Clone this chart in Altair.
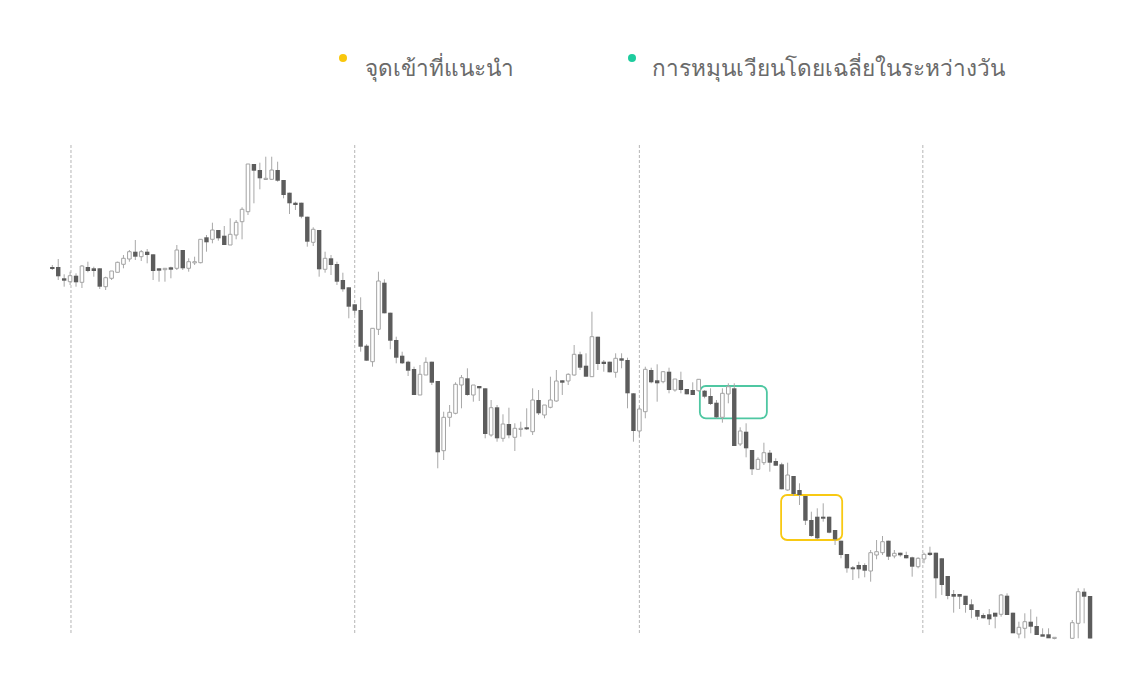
import altair as alt
import pandas as pd

# ---- data (price units are arbitrary, no axis shown) ----
# each candle: colour flag (1 = falling/dark, 0 = rising/white), body top, body bottom, high, low (as price)
idx = list(range(1, 171)) + [173, 174, 175, 176]

dark = [1,1,1,0,1,0,1,1,1,0, 0,0,0,0,1,0,1,1,1,0, 1,0,1,0,0,0,1,0,1,1,
        0,0,0,0,1,1,0,0,1,1, 1,1,1,1,0,1,0,1,1,1, 1,1,1,1,0,0,1,1,1,1,
        1,1,0,0,1,1,0,0,0,0, 1,0,1,1,0,1,0,1,0,0, 1,0,1,0,0,0,1,0,0,1,
        1,0,1,1,1,0,1,1,1,0, 0,1,1,0,1,0,1,1,1,0, 1,1,1,0,0,1,0,1,1,0,
        0,1,1,1,0,1,1,1,1,1, 1,1,1,1,1,1,1,1,0,0, 0,1,0,1,1,1,0,0,1,1,
        1,1,1,1,1,1,1,1,1,1, 0,1,1,0,0,1,1,1,1,0, 0,0,1,1]

body_top = [433.0,433.0,421.7,424.3,424.3,434.0,433.0,431.7,431.7,422.3,
            429.0,437.7,441.7,448.3,448.3,448.3,448.3,445.7,431.7,431.7,
            432.7,450.0,450.0,438.3,438.3,460.7,462.7,470.0,470.0,464.3,
            465.7,477.7,490.7,536.0,536.0,530.0,521.7,530.0,530.0,520.0,
            507.3,497.3,497.3,483.3,470.7,470.0,441.7,441.7,436.0,420.0,
            412.7,395.7,390.0,354.3,371.7,419.0,417.3,387.3,360.0,344.3,
            338.3,331.0,325.7,337.7,338.3,319.0,282.7,287.7,315.7,322.3,
            321.7,315.0,314.0,311.7,292.3,292.7,276.0,276.0,271.7,271.7,
            272.7,300.0,300.0,295.0,300.0,319.0,319.7,325.7,345.7,345.7,
            334.3,363.3,363.3,338.3,338.3,341.7,341.7,340.0,306.7,291.0,
            330.7,330.0,319.7,328.3,328.3,321.0,320.0,311.0,310.0,320.7,
            309.3,304.0,297.3,306.7,313.3,311.7,269.0,268.3,250.0,240.7,
            247.3,247.3,239.0,235.7,225.0,224.0,210.0,204.0,180.0,183.3,
            183.3,183.3,170.0,159.3,146.0,132.7,135.0,135.0,147.3,148.3,
            158.3,159.3,146.7,147.3,145.0,142.7,141.7,145.7,147.3,147.3,
            141.7,124.0,106.0,106.0,104.3,95.7,90.0,85.0,85.7,87.3,
            105.0,104.3,87.3,72.7,78.3,78.3,74.0,65.7,65.7,62.7,
            77.3,108.3,108.3,104.0]

body_bot = [431.0,423.7,419.3,418.3,417.7,417.7,429.0,429.0,413.3,413.3,
            421.7,427.7,435.7,441.0,443.3,443.3,445.0,429.0,429.3,430.3,
            430.3,431.7,431.7,431.7,437.3,437.3,457.7,460.7,461.7,455.0,
            455.0,465.0,478.3,488.3,529.3,521.7,520.7,520.7,519.3,505.0,
            496.7,495.0,483.3,458.3,457.7,430.7,430.7,435.0,418.3,410.7,
            393.3,389.3,353.3,339.3,338.3,370.7,386.7,359.3,342.3,336.7,
            329.3,305.0,305.0,325.0,317.3,247.7,249.3,282.7,286.7,315.0,
            305.0,305.0,311.7,266.0,265.0,261.7,261.7,264.7,262.7,270.7,
            270.7,268.3,286.7,285.0,292.7,299.0,317.3,319.0,325.0,332.3,
            323.3,323.3,336.0,336.0,327.7,327.7,339.3,306.7,269.0,269.0,
            288.3,317.7,316.7,318.3,310.0,310.0,310.0,305.7,305.0,309.3,
            303.3,296.0,282.7,282.7,306.0,254.0,256.0,251.7,230.7,230.7,
            237.3,237.3,234.3,210.7,210.0,206.0,205.0,179.3,164.0,161.7,
            181.3,167.3,160.7,145.0,131.7,130.7,130.7,129.3,129.0,145.0,
            147.3,143.3,144.0,144.7,141.7,133.3,133.3,141.0,145.0,121.7,
            115.0,104.0,103.3,103.3,95.0,90.0,83.3,81.7,80.7,83.3,
            85.7,85.0,66.7,66.0,71.7,73.3,65.0,63.3,61.7,61.7,
            61.7,76.7,103.3,61.5]

high = [435.0,441.0,425.7,428.3,426.7,435.0,438.3,433.3,431.7,423.3,
        429.0,438.3,445.0,450.0,460.0,450.0,451.0,445.7,431.7,431.7,
        433.3,455.0,450.0,441.7,443.3,460.7,465.0,477.3,470.0,474.0,
        481.7,480.0,492.7,536.0,536.0,537.3,543.3,543.3,538.3,520.0,
        507.3,498.3,497.3,483.3,472.7,470.0,448.3,445.0,438.3,427.3,
        412.7,395.7,402.7,355.7,371.7,428.3,420.7,387.3,363.3,348.3,
        339.3,333.3,335.0,342.7,338.3,319.0,288.3,295.0,317.7,325.0,
        331.7,315.0,314.0,311.7,300.0,295.0,285.7,292.3,276.7,278.3,
        291.7,311.7,310.0,295.0,323.3,330.0,319.7,326.7,355.0,348.3,
        346.7,388.3,363.3,340.0,338.3,346.7,346.7,342.3,306.7,293.3,
        333.3,332.3,335.7,329.0,332.3,321.0,328.3,311.0,317.7,320.7,
        310.0,311.7,300.0,311.7,316.7,316.7,272.7,276.7,250.0,242.7,
        257.3,250.0,241.7,237.3,237.3,224.0,216.7,204.0,188.3,191.7,
        196.7,183.3,170.0,159.3,146.0,134.0,138.3,136.7,150.0,160.0,
        164.0,159.3,150.0,147.3,148.3,143.3,142.7,147.3,153.3,147.3,
        141.7,124.0,110.0,106.0,97.3,100.7,86.7,86.7,91.0,83.3,
        106.0,106.7,87.3,78.3,86.7,90.7,83.3,71.7,71.7,62.7,
        80.0,111.7,111.7,104.0]

low = [430.0,420.0,413.3,415.0,413.3,412.0,427.7,423.3,411.0,410.0,
       420.0,427.7,431.7,438.3,440.0,439.0,436.7,420.0,418.3,418.3,
       421.7,430.0,430.0,428.3,435.0,436.7,448.3,456.7,459.3,455.0,
       455.0,460.7,460.7,485.0,496.7,510.7,520.0,520.0,518.3,501.7,
       486.0,490.0,481.7,453.3,454.0,423.3,427.3,425.0,415.0,408.3,
       381.7,385.0,348.3,339.3,333.3,365.0,386.7,350.7,336.7,336.0,
       324.0,305.0,305.0,325.0,315.0,231.7,240.0,273.3,285.7,291.7,
       304.3,298.3,299.0,261.7,263.3,258.3,258.3,261.7,249.0,263.3,
       270.0,265.0,285.0,281.7,291.7,298.3,305.0,315.0,324.3,330.0,
       323.3,323.3,330.0,328.3,327.7,322.3,331.7,291.7,258.3,263.3,
       281.7,316.7,298.3,316.7,306.7,308.3,306.7,305.7,305.0,308.3,
       301.7,295.0,281.7,277.3,296.7,254.0,254.0,242.7,225.0,230.0,
       235.0,228.3,234.3,210.7,209.3,204.0,195.0,175.0,163.3,160.7,
       178.3,166.7,155.0,141.7,127.3,120.0,121.7,122.7,118.3,140.7,
       145.0,140.0,141.7,143.3,141.7,123.3,131.7,136.7,144.0,101.7,
       105.0,100.7,87.3,91.0,87.3,81.7,80.0,81.7,75.0,71.7,
       83.3,85.0,85.0,61.7,61.7,66.7,70.7,65.0,62.7,60.7,
       61.7,61.7,76.7,61.5]

# day separators (candle position) and highlighted zones
day_breaks = [4.15, 52.0, 100.0, 147.8]
zone_name = ["turnover", "entry"]
zone_x0 = [110.2, 123.9]
zone_x1 = [121.5, 134.2]
zone_top = [314.0, 205.0]
zone_bot = [281.7, 160.0]
zone_color = ["#4fc7a2", "#f8c913"]

legend_labels = ["จุดเข้าที่แนะนำ", "การหมุนเวียนโดยเฉลี่ยในระหว่างวัน"]
legend_colors = ["#f9c70c", "#1ecc9e"]

# ---- build frames ----
df = pd.DataFrame({
    "i": idx, "dark": dark, "top": body_top, "bot": body_bot,
    "high": high, "low": low,
})
df["open"] = df.apply(lambda r: r["top"] if r["dark"] else r["bot"], axis=1)
df["close"] = df.apply(lambda r: r["bot"] if r["dark"] else r["top"], axis=1)
# make sure tiny bodies are still visible
df["bot2"] = df.apply(lambda r: min(r["bot"], r["top"] - 1.2), axis=1)

W, H = 1126, 674
xs = alt.Scale(domain=[-6.47, 183.41], nice=False, zero=False, padding=0)
ys = alt.Scale(domain=[18, 692], nice=False, zero=False, padding=0)

breaks = pd.DataFrame({"i": day_breaks, "y0": [555.0] * 4, "y1": [67.0] * 4})
rules = alt.Chart(breaks).mark_rule(color="#b5b5b5", strokeWidth=1, strokeDash=[3, 2]).encode(
    x=alt.X("i:Q", scale=xs, axis=None),
    y=alt.Y("y0:Q", scale=ys, axis=None),
    y2="y1:Q",
)

zones = pd.DataFrame({"name": zone_name, "x0": zone_x0, "x1": zone_x1,
                      "t": zone_top, "b": zone_bot, "c": zone_color})
boxes = alt.Chart(zones).mark_rect(fill=None, fillOpacity=0, strokeWidth=1.8, cornerRadius=6).encode(
    x=alt.X("x0:Q", scale=xs, axis=None), x2="x1:Q",
    y=alt.Y("t:Q", scale=ys, axis=None), y2="b:Q",
    stroke=alt.Stroke("c:N", scale=None),
)

wicks = alt.Chart(df).mark_rule(color="#a8a8a8", strokeWidth=1).encode(
    x=alt.X("i:Q", scale=xs, axis=None),
    y=alt.Y("high:Q", scale=ys, axis=None),
    y2="low:Q",
)

bodies_up = alt.Chart(df[df["dark"] == 0]).mark_bar(
    size=3.6, fill="#ffffff", stroke="#a3a3a3", strokeWidth=1
).encode(
    x=alt.X("i:Q", scale=xs, axis=None),
    y=alt.Y("top:Q", scale=ys, axis=None),
    y2="bot2:Q",
)

bodies_down = alt.Chart(df[df["dark"] == 1]).mark_bar(
    size=4.4, color="#5c5c5c"
).encode(
    x=alt.X("i:Q", scale=xs, axis=None),
    y=alt.Y("top:Q", scale=ys, axis=None),
    y2="bot2:Q",
)

leg = pd.DataFrame({"label": legend_labels, "color": legend_colors, "k": [0, 1]})
leg_dot0 = alt.Chart(leg[leg.k == 0]).mark_circle(size=64, opacity=1).encode(
    x=alt.value(335), y=alt.value(50), color=alt.Color("color:N", scale=None))
leg_dot1 = alt.Chart(leg[leg.k == 1]).mark_circle(size=64, opacity=1).encode(
    x=alt.value(624), y=alt.value(50), color=alt.Color("color:N", scale=None))
leg_txt0 = alt.Chart(leg[leg.k == 0]).mark_text(
    align="left", baseline="alphabetic", fontSize=22.6, fontWeight="normal",
    color="#6a6a6a", font="Noto Sans"
).encode(x=alt.value(357), y=alt.value(68), text="label:N")
leg_txt1 = alt.Chart(leg[leg.k == 1]).mark_text(
    align="left", baseline="alphabetic", fontSize=22.6, fontWeight="normal",
    color="#6a6a6a", font="Noto Sans"
).encode(x=alt.value(644), y=alt.value(68), text="label:N")

chart = alt.layer(
    rules, boxes, wicks, bodies_up, bodies_down,
    leg_dot0, leg_dot1, leg_txt0, leg_txt1,
).properties(
    width=W, height=H,
    autosize=alt.AutoSizeParams(type="none"),
    padding=0,
    background="#ffffff",
).configure_view(stroke=None)

chart.save("out.html", embed_options={"renderer": "svg", "actions": False})
